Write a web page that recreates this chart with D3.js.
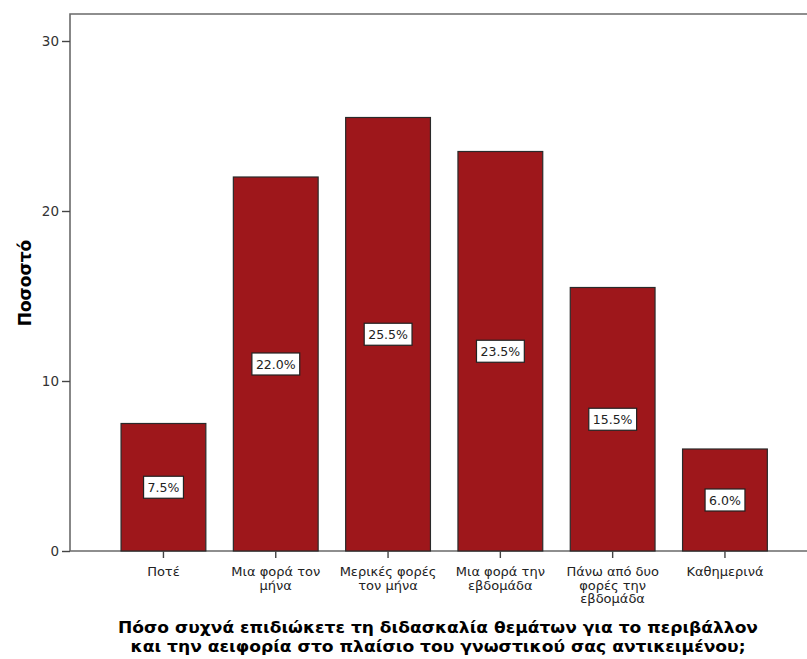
<!DOCTYPE html>
<html><head><meta charset="utf-8">
<script src="https://cdn.jsdelivr.net/npm/d3@7"></script>
<style>body{margin:0;background:#fff;} text{font-family:"DejaVu Sans",sans-serif;}</style>
</head><body>
<svg id="c" width="807" height="659"></svg>
<script>
const categories = ["Ποτέ","Μια φορά τον μήνα","Μερικές φορές τον μήνα","Μια φορά την εβδομάδα","Πάνω από δυο φορές την εβδομάδα","Καθημερινά"];
const categoryLines = [["Ποτέ"],["Μια φορά τον","μήνα"],["Μερικές φορές","τον μήνα"],["Μια φορά την","εβδομάδα"],["Πάνω από δυο","φορές την","εβδομάδα"],["Καθημερινά"]];
const values = [7.5, 22.0, 25.5, 23.5, 15.5, 6.0];
const yTicks = [0, 10, 20, 30];
const yTitle = "Ποσοστό";
const xTitleLines = ["Πόσο συχνά επιδιώκετε τη διδασκαλία θεμάτων για το περιβάλλον","και την αειφορία στο πλαίσιο του γνωστικού σας αντικειμένου;"];

const svg = d3.select("#c");
const mLeft = 70, mTop = 14, mRight = 807, mBottom = 551;
const y = d3.scaleLinear().domain([0, 30]).range([mBottom, 41]);
const x = d3.scaleBand().domain(categories).range([107.3, 781.1]).paddingInner(0.245).paddingOuter(0.1225);

// frame
svg.append("path").attr("d", `M${mRight},${mTop}H${mLeft}V${mBottom}H${mRight}`)
  .attr("fill","none").attr("stroke","#6a6a6a").attr("stroke-width",1.6);

// bars
svg.selectAll("rect.bar").data(values).join("rect").attr("class","bar")
  .attr("x",(d,i)=>x(categories[i])).attr("width",x.bandwidth())
  .attr("y",d=>y(d)).attr("height",d=>y(0)-y(d))
  .attr("fill","#9e171b").attr("stroke","#2a2a2a").attr("stroke-width",1.2);

// y axis
const ya = svg.append("g").attr("transform",`translate(${mLeft},0)`)
  .call(d3.axisLeft(y).tickValues(yTicks).tickSize(8).tickPadding(3).tickFormat(d3.format("d")));
ya.select(".domain").remove();
ya.selectAll("line").attr("stroke","#444").attr("stroke-width",1.4);
ya.selectAll("text").attr("font-size",13.5).attr("fill","#333").attr("font-family","DejaVu Sans");

// x axis ticks
const xa = svg.append("g").attr("transform",`translate(0,${mBottom})`)
  .call(d3.axisBottom(x).tickSize(7).tickFormat(""));
xa.select(".domain").remove();
xa.selectAll("line").attr("stroke","#444").attr("stroke-width",1.4);

// category labels
categories.forEach((c,i)=>{
  const t = svg.append("text").attr("x",x(c)+x.bandwidth()/2).attr("y",576)
    .attr("text-anchor","middle").attr("font-size",13).attr("fill","#222");
  categoryLines[i].forEach((l,j)=>t.append("tspan").attr("x",x(c)+x.bandwidth()/2).attr("dy",j?13.5:0).text(l));
});

// value labels
values.forEach((v,i)=>{
  const cx = x(categories[i])+x.bandwidth()/2, cy = y(v/2);
  const g = svg.append("g");
  const t = g.append("text").attr("x",cx).attr("y",cy+4.5).attr("text-anchor","middle")
    .attr("font-size",12.5).attr("fill","#222").text(d3.format(".1f")(v)+"%");
  const bb = t.node().getBBox();
  g.insert("rect","text").attr("x",bb.x-4).attr("y",cy-11).attr("width",bb.width+8).attr("height",22)
    .attr("fill","#fff").attr("stroke","#222").attr("stroke-width",1.2);
});

// y title
svg.append("text").attr("transform","translate(31,283) rotate(-90)").attr("text-anchor","middle")
  .attr("font-size",17).attr("font-weight","bold").attr("font-family","Liberation Sans, Arial, sans-serif")
  .attr("fill","#000").text(yTitle);

// x title
const titleWidths = [640, 615];
xTitleLines.forEach((l,j)=>{
  svg.append("text").attr("x",438).attr("y",633+j*18.5).attr("text-anchor","middle")
    .attr("font-size",16).attr("font-weight","bold").attr("font-family","Liberation Sans, Arial, sans-serif")
    .attr("textLength",titleWidths[j]).attr("lengthAdjust","spacingAndGlyphs")
    .attr("fill","#000").text(l);
});
</script>
</body></html>
